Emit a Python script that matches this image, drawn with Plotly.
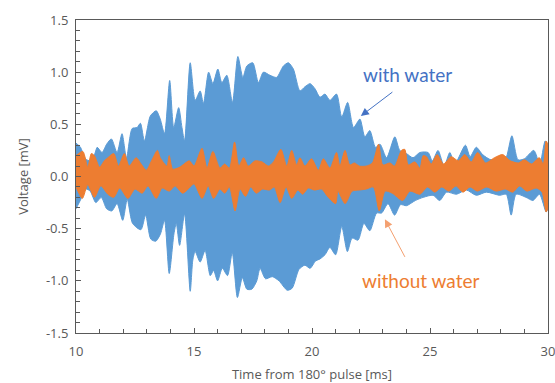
import plotly.graph_objects as go

t_water_up = [10.0, 10.19, 10.4, 10.6, 10.8, 10.9, 11.1, 11.3, 11.5, 11.74, 11.95, 12.14, 12.38, 12.59,
              12.73, 12.9, 13.15, 13.4, 13.57, 13.75, 13.97, 14.14, 14.35, 14.49, 14.6, 14.84, 15.05,
              15.26, 15.4, 15.62, 15.8, 16.01, 16.18, 16.39, 16.63, 16.86, 17.07, 17.24, 17.49, 17.73,
              17.94, 18.22, 18.5, 18.79, 19.0, 19.21, 19.49, 19.7, 19.92, 20.13, 20.34, 20.55, 20.76,
              21.04, 21.26, 21.51, 21.76, 22.03, 22.24, 22.45, 22.69, 22.88, 23.16, 23.51, 23.72, 24.0,
              24.28, 24.57, 24.92, 25.1, 25.34, 25.6, 25.84, 26.05, 26.5, 26.7, 26.96, 27.23, 27.59,
              28.0, 28.2, 28.47, 28.73, 29.0, 29.4, 29.65, 29.88, 30.0]
v_water_up = [0.32, 0.28, 0.17, 0.15, 0.22, 0.28, 0.23, 0.31, 0.36, 0.23, 0.41, 0.18, 0.46, 0.47,
              0.51, 0.34, 0.58, 0.63, 0.55, 0.41, 0.92, 0.47, 0.66, 0.47, 0.34, 1.09, 0.73,
              0.82, 0.70, 1.0, 0.89, 1.03, 0.90, 0.97, 0.71, 1.15, 0.95, 1.06, 1.09, 0.90,
              1.0, 0.97, 0.95, 1.06, 1.09, 1.03, 0.82, 0.86, 0.89, 0.84, 0.76, 0.79, 0.73,
              0.79, 0.57, 0.71, 0.47, 0.55, 0.38, 0.44, 0.28, 0.31, 0.18, 0.38, 0.25, 0.22,
              0.18, 0.23, 0.23, 0.15, 0.25, 0.10, 0.23, 0.12, 0.30, 0.19, 0.28, 0.21, 0.16,
              0.19, 0.17, 0.39, 0.16, 0.17, 0.25, 0.12, 0.34, 0.30]

t_water_lo = [10.0, 10.2, 10.42, 10.6, 10.84, 11.07, 11.3, 11.52, 11.74, 11.98, 12.17, 12.4, 12.75,
              12.95, 13.17, 13.38, 13.58, 13.75, 13.95, 14.15, 14.25, 14.39, 14.6, 14.84, 14.95, 15.05,
              15.26, 15.47, 15.69, 15.83, 16.0, 16.2, 16.42, 16.62, 16.84, 17.05, 17.24, 17.45, 17.66,
              17.8, 18.03, 18.32, 18.6, 18.95, 19.16, 19.45, 19.7, 19.92, 20.15, 20.34, 20.55, 20.76,
              21.0, 21.26, 21.5, 21.7, 21.95, 22.2, 22.45, 22.74, 22.95, 23.22, 23.5, 23.75, 24.0,
              24.38, 24.71, 25.13, 25.41, 25.7, 26.12, 26.54, 26.96, 27.39, 27.95, 28.23, 28.44,
              28.65, 29.07, 29.36, 29.64, 29.92, 30.0]
v_water_lo = [-0.31, -0.22, -0.12, -0.14, -0.25, -0.20, -0.31, -0.33, -0.26, -0.42, -0.22, -0.45, -0.51,
              -0.37, -0.60, -0.62, -0.55, -0.42, -0.93, -0.55, -0.45, -0.66, -0.36, -1.10, -0.80, -0.72,
              -0.82, -0.71, -0.95, -0.90, -1.0, -0.88, -0.95, -0.73, -1.16, -0.97, -1.08, -1.08, -1.0,
              -0.88, -0.98, -0.96, -1.0, -1.09, -1.07, -0.89, -0.85, -0.88, -0.81, -0.79, -0.75, -0.68,
              -0.75, -0.48, -0.72, -0.59, -0.61, -0.45, -0.52, -0.35, -0.35, -0.26, -0.37, -0.27, -0.28,
              -0.23, -0.20, -0.18, -0.23, -0.15, -0.17, -0.13, -0.18, -0.15, -0.18, -0.17, -0.37,
              -0.17, -0.20, -0.23, -0.17, -0.34, -0.30]

t_dry_up = [10.0, 10.29, 10.5, 10.65, 10.78, 11.0, 11.2, 11.35, 11.6, 11.8, 12.05, 12.25, 12.55, 12.76,
            12.98, 13.2, 13.45, 13.57, 13.85, 13.95, 14.1, 14.4, 14.8, 15.0, 15.34, 15.55, 15.8, 16.1,
            16.3, 16.5, 16.72, 16.9, 17.1, 17.3, 17.59, 17.88, 18.16, 18.37, 18.68, 18.93, 19.14, 19.35,
            19.49, 19.7, 19.98, 20.27, 20.48, 20.76, 21.04, 21.18, 21.4, 21.6, 21.8, 22.0, 22.3, 22.56,
            22.82, 23.0, 23.3, 23.5, 23.79, 23.93, 24.08, 24.36, 24.57, 24.71, 24.85, 25.05, 25.3, 25.57,
            25.9, 26.2, 26.47, 26.75, 27.02, 27.35, 27.73, 28.08, 28.4, 28.75, 29.0, 29.3, 29.63, 29.8,
            29.92, 30.0]
v_dry_up = [0.20, 0.24, 0.09, 0.22, 0.20, 0.09, 0.15, 0.18, 0.22, 0.10, 0.22, 0.10, 0.18, 0.12,
            0.06, 0.15, 0.25, 0.18, 0.10, 0.20, 0.07, 0.09, 0.15, 0.10, 0.27, 0.08, 0.24, 0.08,
            0.12, 0.08, 0.33, 0.10, 0.18, 0.10, 0.15, 0.14, 0.10, 0.14, 0.26, 0.10, 0.25, 0.11,
            0.18, 0.10, 0.17, 0.06, 0.17, 0.08, 0.23, 0.10, 0.25, 0.11, 0.13, 0.10, 0.10, 0.13,
            0.31, 0.11, 0.13, 0.10, 0.25, 0.26, 0.11, 0.14, 0.08, 0.20, 0.19, 0.12, 0.21, 0.12,
            0.19, 0.15, 0.21, 0.14, 0.23, 0.13, 0.18, 0.21, 0.15, 0.13, 0.16, 0.12, 0.18, 0.12,
            0.34, 0.30]

t_dry_lo = [10.0, 10.27, 10.5, 10.78, 11.05, 11.35, 11.6, 11.85, 12.2, 12.5, 12.8, 13.05, 13.4, 13.65,
            13.95, 14.2, 14.52, 14.8, 15.0, 15.34, 15.6, 15.83, 16.1, 16.3, 16.5, 16.74, 16.95, 17.18,
            17.4, 17.64, 17.9, 18.2, 18.4, 18.65, 18.9, 19.14, 19.4, 19.6, 19.85, 20.1, 20.4, 20.69,
            21.0, 21.1, 21.4, 21.7, 22.0, 22.3, 22.6, 22.85, 23.1, 23.4, 23.84, 24.15, 24.57, 24.9,
            25.2, 25.5, 25.8, 26.1, 26.4, 26.7, 27.0, 27.4, 27.8, 28.2, 28.5, 28.8, 29.1, 29.5, 29.75,
            29.92, 30.0]
v_dry_lo = [-0.10, -0.21, -0.08, -0.20, -0.09, -0.17, -0.20, -0.11, -0.21, -0.12, -0.16, -0.09, -0.21, -0.11,
            -0.14, -0.09, -0.16, -0.11, -0.07, -0.21, -0.09, -0.21, -0.12, -0.16, -0.10, -0.33, -0.12, -0.19,
            -0.10, -0.16, -0.12, -0.13, -0.10, -0.25, -0.10, -0.21, -0.13, -0.17, -0.11, -0.13, -0.12, -0.20,
            -0.26, -0.14, -0.26, -0.14, -0.13, -0.12, -0.10, -0.33, -0.14, -0.16, -0.23, -0.14, -0.17, -0.10,
            -0.15, -0.10, -0.14, -0.09, -0.15, -0.10, -0.14, -0.10, -0.14, -0.12, -0.15, -0.09, -0.14, -0.11, -0.15,
            -0.34, -0.30]

x_ticks = [10, 15, 20, 25, 30]
y_ticks = [-1.5, -1.0, -0.5, 0.0, 0.5, 1.0, 1.5]
y_tick_labels = ["-1.5", "-1.0", "-0.5", "0.0", "0.5", "1.0", "1.5"]

BLUE = "#5B9BD5"
ORANGE = "#ED7D31"
GRAY = "#595959"

fig = go.Figure()
fig.add_trace(go.Scatter(
    x=t_water_up + t_water_lo[::-1], y=v_water_up + v_water_lo[::-1],
    fill="toself", fillcolor=BLUE, mode="lines",
    line=dict(color=BLUE, width=1, shape="spline", smoothing=0.7),
    name="with water", hoverinfo="skip", cliponaxis=True))
fig.add_trace(go.Scatter(
    x=t_dry_up + t_dry_lo[::-1], y=v_dry_up + v_dry_lo[::-1],
    fill="toself", fillcolor=ORANGE, mode="lines",
    line=dict(color=ORANGE, width=1, shape="spline", smoothing=0.7),
    name="without water", hoverinfo="skip", cliponaxis=True))

fig.add_annotation(x=22.07, y=0.58, ax=23.47, ay=0.82, xref="x", yref="y", axref="x", ayref="y",
                   text="", showarrow=True, arrowhead=2, arrowsize=1.6, arrowwidth=1, arrowcolor="#4472C4")
fig.add_annotation(x=24.06, y=0.98, text="with water", showarrow=False,
                   font=dict(family="Lato", size=19, color="#4472C4"))
fig.add_annotation(x=23.09, y=-0.41, ax=23.97, ay=-0.785, xref="x", yref="y", axref="x", ayref="y",
                   text="", showarrow=True, arrowhead=2, arrowsize=1.6, arrowwidth=1, arrowcolor="#F4A070")
fig.add_annotation(x=24.61, y=-1.0, text="without water", showarrow=False,
                   font=dict(family="Lato", size=19, color=ORANGE))

fig.update_layout(
    width=555, height=383,
    margin=dict(l=76, r=7, t=20, b=50),
    paper_bgcolor="white", plot_bgcolor="white",
    showlegend=False,
    font=dict(family="Open Sans", size=13, color=GRAY),
)
fig.update_xaxes(
    range=[10, 30], tickvals=x_ticks, ticktext=[str(v) for v in x_ticks],
    showgrid=False, zeroline=False, showline=True, linecolor=GRAY, linewidth=1, mirror=True,
    ticks="inside", ticklen=5, tickcolor=GRAY, automargin=False,
    minor=dict(dtick=1, ticks="inside", ticklen=4, tickcolor=GRAY, showgrid=False),
    title=dict(text="Time from 180° pulse [ms]", standoff=12, font=dict(size=13, color=GRAY)),
    tickfont=dict(size=13, color=GRAY), ticklabelstandoff=6, ticklabeloverflow="allow",
)
fig.update_yaxes(
    range=[-1.5, 1.5], tickvals=y_ticks, ticktext=y_tick_labels,
    showgrid=False, zeroline=False, showline=True, linecolor=GRAY, linewidth=1, mirror=True,
    ticks="inside", ticklen=5, tickcolor=GRAY, automargin=False,
    minor=dict(dtick=0.1, ticks="inside", ticklen=4, tickcolor=GRAY, showgrid=False),
    title=dict(text="Voltage [mV]", standoff=14, font=dict(size=13, color=GRAY)),
    tickfont=dict(size=13, color=GRAY), ticklabelstandoff=4,
)

fig.write_html("out.html")
